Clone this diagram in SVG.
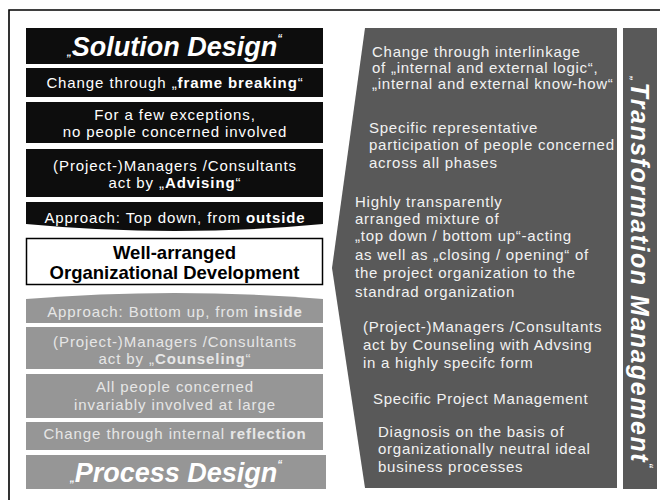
<svg xmlns="http://www.w3.org/2000/svg" width="660" height="500" viewBox="0 0 660 500">
<style>
text{font-family:"Liberation Sans",Arial,sans-serif}
.blk{fill:#0d0d0d}
.gry{fill:#969696}
.wt{fill:#ffffff;font-size:15px;letter-spacing:0.9px;text-anchor:middle}
.gt{fill:#e6e6e6;font-size:15px;letter-spacing:0.9px;text-anchor:middle}
.title{font-size:27px;font-weight:bold;font-style:italic;text-anchor:middle}
.q{font-size:10px}
.b{font-weight:bold}
.pt{fill:#f2f2f2;font-size:15px;letter-spacing:0.75px}
</style>
<rect width="660" height="500" fill="#ffffff"/>
<path d="M9,500 V10 H660" fill="none" stroke="#000" stroke-width="1.6"/>
<g id="connectors"/>
<g id="solution-design">
<rect class="blk" x="26" y="28" width="297" height="36"/>
<text class="title" x="174.5" y="56" fill="#fff"><tspan class="q">„</tspan>Solution Design<tspan class="q" dy="-14">“</tspan></text>
</g>
<g id="frame-breaking">
<rect class="blk" x="26" y="68" width="297" height="29"/>
<text class="wt" x="175" y="88">Change through „<tspan class="b">frame breaking</tspan>“</text>
</g>
<g id="few-exceptions">
<rect class="blk" x="26" y="102" width="297" height="41"/>
<text class="wt" x="175" y="120">For a few exceptions,</text>
<text class="wt" x="175" y="137">no people concerned involved</text>
</g>
<g id="advising">
<rect class="blk" x="26" y="149" width="297" height="48"/>
<text class="wt" x="175" y="171">(Project-)Managers /Consultants</text>
<text class="wt" x="175" y="188">act by „<tspan class="b">Advising</tspan>“</text>
</g>
<g id="top-down">
<path class="blk" d="M26,202 H323 V224 Q174.5,238 26,224 Z"/>
<text class="wt" x="175" y="223">Approach: Top down, from <tspan class="b">outside</tspan></text>
</g>
<g id="well-arranged">
<rect x="26.5" y="238.5" width="296" height="46" fill="#fff" stroke="#000" stroke-width="1.5"/>
<text x="174.5" y="258.5" font-size="18.5" font-weight="bold" text-anchor="middle" fill="#000">Well-arranged</text>
<text x="174.5" y="278.5" font-size="18.5" font-weight="bold" text-anchor="middle" fill="#000">Organizational Development</text>
</g>
<g id="bottom-up">
<path class="gry" d="M26,299 Q174.5,287 323,299 V323 H26 Z"/>
<text class="gt" x="175" y="317">Approach: Bottom up, from <tspan class="b">inside</tspan></text>
</g>
<g id="counseling">
<rect class="gry" x="26" y="327" width="297" height="42"/>
<text class="gt" x="175" y="347">(Project-)Managers /Consultants</text>
<text class="gt" x="175" y="364">act by „<tspan class="b">Counseling</tspan>“</text>
</g>
<g id="all-people">
<rect class="gry" x="26" y="374" width="297" height="44"/>
<text class="gt" x="175" y="392">All people concerned</text>
<text class="gt" x="175" y="410">invariably involved at large</text>
</g>
<g id="reflection">
<rect class="gry" x="26" y="422" width="297" height="28"/>
<text class="gt" x="175" y="439">Change through internal <tspan class="b">reflection</tspan></text>
</g>
<g id="process-design">
<rect class="gry" x="26" y="455" width="300" height="34"/>
<text class="title" x="176" y="482" fill="#fff"><tspan class="q">„</tspan>Process Design<tspan class="q" dy="-14">“</tspan></text>
</g>
<g id="transformation-panel">
<path d="M365,28 H617 V488 H365 L332,268 Z" fill="#595959"/>
<text class="pt" x="372" y="57">Change through interlinkage</text>
<text class="pt" x="372" y="73">of „internal and external logic“,</text>
<text class="pt" x="372" y="89">„internal and external know-how“</text>
<text class="pt" x="369" y="133">Specific representative</text>
<text class="pt" x="369" y="150">participation of people concerned</text>
<text class="pt" x="369" y="168">across all phases</text>
<text class="pt" x="355" y="207">Highly transparently</text>
<text class="pt" x="355" y="224">arranged mixture of</text>
<text class="pt" x="355" y="241">„top down / bottom up“-acting</text>
<text class="pt" x="355" y="260">as well as „closing / opening“ of</text>
<text class="pt" x="355" y="278">the project organization to the</text>
<text class="pt" x="355" y="297">standrad organization</text>
<text class="pt" x="363" y="332">(Project-)Managers /Consultants</text>
<text class="pt" x="363" y="350">act by Counseling with Advsing</text>
<text class="pt" x="363" y="368">in a highly specifc form</text>
<text class="pt" x="373" y="404">Specific Project Management</text>
<text class="pt" x="378" y="437">Diagnosis on the basis of</text>
<text class="pt" x="378" y="454">organizationally neutral ideal</text>
<text class="pt" x="378" y="472">business processes</text>
</g>
<g id="transformation-management">
<rect x="623" y="28" width="34" height="461" fill="#595959"/>
<text transform="translate(631,272) rotate(90)" font-size="25" font-weight="bold" font-style="italic" text-anchor="middle" fill="#fff" textLength="392" lengthAdjust="spacing"><tspan class="q">„</tspan>Transformation Management<tspan class="q" dy="-14">“</tspan></text>
</g>
</svg>
